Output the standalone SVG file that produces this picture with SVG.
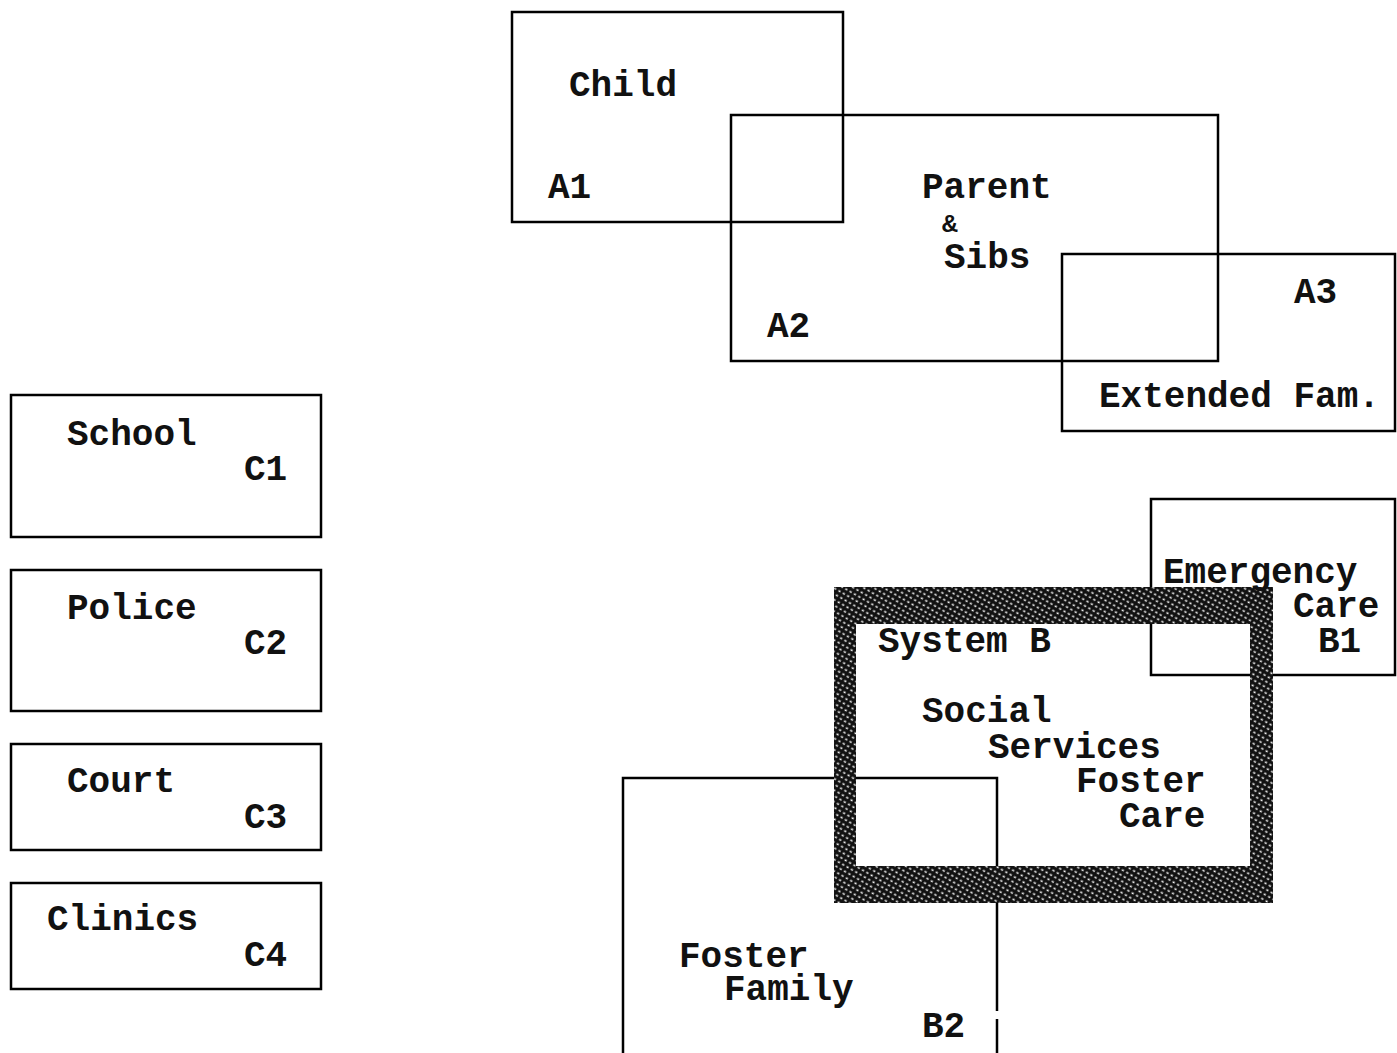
<svg xmlns="http://www.w3.org/2000/svg" width="1397" height="1053" viewBox="0 0 1397 1053">
<style>
.box{fill:none;stroke:#000;stroke-width:2.5}
.t{font-family:"Liberation Mono","Courier New",monospace;font-size:36px;font-weight:bold;fill:#111}
</style>
<defs>
<pattern id="hatch" width="5" height="5" patternUnits="userSpaceOnUse" patternTransform="rotate(30)">
<rect width="5" height="5" fill="#111"/>
<rect x="1.5" y="1.5" width="2.2" height="1.6" fill="#fff"/>
</pattern>
</defs>
<rect width="1397" height="1053" fill="#fff"/>
<g id="connectors"></g>
<g id="child-a1">
<rect class="box" x="512" y="12" width="331" height="210"/>
<text class="t" x="569" y="96">Child</text>
<text class="t" x="548" y="198">A1</text>
</g>
<g id="parent-a2">
<rect class="box" x="731" y="115" width="487" height="246"/>
<text class="t" x="922" y="198">Parent</text>
<text class="t" x="942" y="232" style="font-size:26px">&amp;</text>
<text class="t" x="944" y="268">Sibs</text>
<text class="t" x="767" y="337">A2</text>
</g>
<g id="extended-a3">
<rect class="box" x="1062" y="254" width="333" height="177"/>
<text class="t" x="1294" y="303">A3</text>
<text class="t" x="1099" y="407">Extended Fam.</text>
</g>
<g id="school-c1">
<rect class="box" x="11" y="395" width="310" height="142"/>
<text class="t" x="67" y="445">School</text>
<text class="t" x="244" y="480">C1</text>
</g>
<g id="police-c2">
<rect class="box" x="11" y="570" width="310" height="141"/>
<text class="t" x="67" y="619">Police</text>
<text class="t" x="244" y="654">C2</text>
</g>
<g id="court-c3">
<rect class="box" x="11" y="744" width="310" height="106"/>
<text class="t" x="67" y="792">Court</text>
<text class="t" x="244" y="828">C3</text>
</g>
<g id="clinics-c4">
<rect class="box" x="11" y="883" width="310" height="106"/>
<text class="t" x="47" y="930">Clinics</text>
<text class="t" x="244" y="966">C4</text>
</g>
<g id="emergency-b1">
<rect class="box" x="1151" y="499" width="244" height="176"/>
</g>
<g id="foster-family-b2">
<path class="box" d="M623 1053 V778 H997 V1011 M997 1019 V1053"/>
<text class="t" x="679" y="967">Foster</text>
<text class="t" x="724" y="1000">Family</text>
<text class="t" x="922" y="1037">B2</text>
</g>
<g id="system-b">
<path d="M834 587 H1273 V903 H834 Z M856 624 V866 H1250 V624 Z" fill="url(#hatch)" fill-rule="evenodd"/>
<text class="t" x="878" y="652">System B</text>
<text class="t" x="922" y="722">Social</text>
<text class="t" x="988" y="758">Services</text>
<text class="t" x="1076" y="792">Foster</text>
<text class="t" x="1119" y="827">Care</text>
</g>
<g id="emergency-b1-labels">
<text class="t" x="1163" y="583">Emergency</text>
<text class="t" x="1293" y="617">Care</text>
<text class="t" x="1318" y="652">B1</text>
</g>
</svg>
